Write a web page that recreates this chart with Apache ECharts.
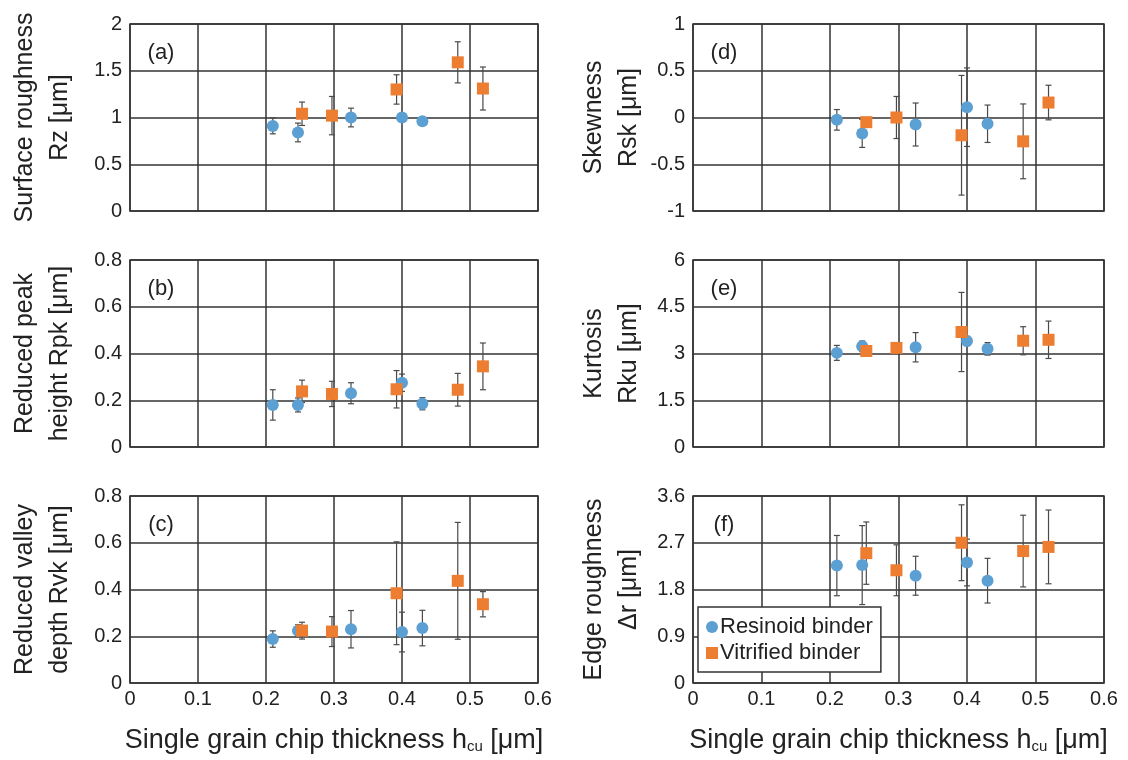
<!DOCTYPE html>
<html>
<head>
<meta charset="utf-8">
<script src="https://cdn.jsdelivr.net/npm/echarts@6/dist/echarts.min.js"></script>
<style>
  html, body { margin: 0; padding: 0; background: #fff; }
  #chart { width: 1128px; height: 760px; }
</style>
</head>
<body>
<div id="chart"></div>
<script>
// single grain chip thickness hcu [µm]
var xTicks = [0, 0.1, 0.2, 0.3, 0.4, 0.5, 0.6];
var hcuResin = [0.21, 0.247, 0.325, 0.40, 0.43];
var hcuVitri = [0.253, 0.297, 0.392, 0.482, 0.519];

// (a) Rz
var rzTicks = [0, 0.5, 1, 1.5, 2];
var rzResin = [0.91, 0.84, 1.0, 1.0, 0.96];
var rzResinErr = [0.085, 0.1, 0.1, 0, 0];
var rzVitri = [1.04, 1.02, 1.30, 1.59, 1.31];
var rzVitriErr = [0.125, 0.205, 0.157, 0.22, 0.23];

// (b) Rpk
var rpkTicks = [0, 0.2, 0.4, 0.6, 0.8];
var rpkResin = [0.18, 0.18, 0.23, 0.275, 0.185];
var rpkResinErr = [0.065, 0.03, 0.045, 0.037, 0.026];
var rpkVitri = [0.238, 0.227, 0.247, 0.245, 0.345];
var rpkVitriErr = [0.048, 0.054, 0.08, 0.07, 0.1];

// (c) Rvk
var rvkTicks = [0, 0.2, 0.4, 0.6, 0.8];
var rvkResin = [0.188, 0.224, 0.23, 0.218, 0.235];
var rvkResinErr = [0.035, 0.025, 0.08, 0.085, 0.076];
var rvkVitri = [0.224, 0.22, 0.384, 0.437, 0.337];
var rvkVitriErr = [0.036, 0.064, 0.22, 0.25, 0.054];

// (d) Rsk
var rskTicks = [-1, -0.5, 0, 0.5, 1];
var rskResin = [-0.025, -0.17, -0.075, 0.11, -0.067];
var rskResinErr = [0.11, 0.15, 0.23, 0.42, 0.2];
var rskVitri = [-0.05, 0, -0.19, -0.255, 0.16];
var rskVitriErr = [0.03, 0.225, 0.64, 0.4, 0.185];

// (e) Rku
var rkuTicks = [0, 1.5, 3, 4.5, 6];
var rkuResin = [3.02, 3.23, 3.2, 3.4, 3.15];
var rkuResinErr = [0.24, 0.17, 0.47, 0.15, 0.2];
var rkuVitri = [3.08, 3.18, 3.69, 3.41, 3.44];
var rkuVitriErr = [0.05, 0.1, 1.27, 0.45, 0.6];

// (f) edge roughness
var drTicks = [0, 0.9, 1.8, 2.7, 3.6];
var drResin = [2.26, 2.27, 2.065, 2.32, 1.97];
var drResinErr = [0.58, 0.76, 0.375, 0.45, 0.43];
var drVitri = [2.5, 2.17, 2.7, 2.54, 2.62];
var drVitriErr = [0.6, 0.49, 0.73, 0.69, 0.71];

var FONT = "'Liberation Sans', Arial, sans-serif";
var BLUE = '#5b9fd3';
var ORANGE = '#ed7d31';
var GRIDC = '#333';

var panels = [
    { tag: '(a)', name: 'Surface roughness\nRz [μm]', ticks: rzTicks, r: rzResin, re: rzResinErr, v: rzVitri, ve: rzVitriErr },
    { tag: '(b)', name: 'Reduced peak\nheight Rpk [μm]', ticks: rpkTicks, r: rpkResin, re: rpkResinErr, v: rpkVitri, ve: rpkVitriErr },
    { tag: '(c)', name: 'Reduced valley\ndepth Rvk [μm]', ticks: rvkTicks, r: rvkResin, re: rvkResinErr, v: rvkVitri, ve: rvkVitriErr },
    { tag: '(d)', name: 'Skewness\nRsk [μm]', ticks: rskTicks, r: rskResin, re: rskResinErr, v: rskVitri, ve: rskVitriErr },
    { tag: '(e)', name: 'Kurtosis\nRku [μm]', ticks: rkuTicks, r: rkuResin, re: rkuResinErr, v: rkuVitri, ve: rkuVitriErr },
    { tag: '(f)', name: 'Edge roughness\nΔr [μm]', ticks: drTicks, r: drResin, re: drResinErr, v: drVitri, ve: drVitriErr }
];

var lefts = [130, 130, 130, 693, 693, 693];
var tops = [24, 260, 496, 24, 260, 496];

function errorBars(params, api) {
    var x = api.value(0);
    var hi = api.coord([x, api.value(2)]);
    var lo = api.coord([x, api.value(1)]);
    var w = 3;
    var st = { stroke: '#4a4a4a', lineWidth: 1.2 };
    return {
        type: 'group',
        children: [
            { type: 'line', shape: { x1: hi[0], y1: hi[1], x2: lo[0], y2: lo[1] }, style: st },
            { type: 'line', shape: { x1: hi[0] - w, y1: hi[1], x2: hi[0] + w, y2: hi[1] }, style: st },
            { type: 'line', shape: { x1: lo[0] - w, y1: lo[1], x2: lo[0] + w, y2: lo[1] }, style: st }
        ]
    };
}

var grids = [], xAxes = [], yAxes = [], series = [], graphics = [];

panels.forEach(function (p, i) {
    var bottomRow = (i === 2 || i === 5);
    grids.push({
        left: lefts[i], top: tops[i], width: i < 3 ? 408 : 411, height: 187,
        show: true, borderColor: GRIDC, borderWidth: 1.5, backgroundColor: '#fff'
    });
    xAxes.push({
        gridIndex: i, type: 'value',
        min: xTicks[0], max: xTicks[xTicks.length - 1], interval: xTicks[1] - xTicks[0],
        axisLine: { show: false }, axisTick: { show: false },
        splitLine: { lineStyle: { color: GRIDC, width: 1.5 } },
        axisLabel: { show: bottomRow, color: '#222', fontSize: 20, fontFamily: FONT, margin: 6 },
        name: bottomRow ? '{a|Single grain chip thickness h}{s|cu}{a| [μm]}' : '',
        nameLocation: 'middle', nameGap: 44,
        nameTextStyle: {
            rich: {
                a: { fontSize: 27, fontFamily: FONT, color: '#222' },
                s: { fontSize: 15, fontFamily: FONT, color: '#222', verticalAlign: 'bottom', padding: [11, 0, 0, 0] }
            }
        }
    });
    var t = p.ticks;
    yAxes.push({
        gridIndex: i, type: 'value',
        min: t[0], max: t[t.length - 1], interval: t[1] - t[0],
        axisLine: { show: false }, axisTick: { show: false },
        splitLine: { lineStyle: { color: GRIDC, width: 1.5 } },
        axisLabel: { color: '#222', fontSize: 20, fontFamily: FONT, margin: 8 },
        name: p.name, nameLocation: 'middle', nameRotate: 90,
        nameGap: i < 3 ? 52 : 46,
        nameTextStyle: { fontSize: 25, fontFamily: FONT, color: '#222', lineHeight: 35 }
    });

    series.push({
        type: 'custom', xAxisIndex: i, yAxisIndex: i, z: 2, silent: true,
        renderItem: errorBars,
        data: hcuResin.map(function (x, k) { return [x, p.r[k] - p.re[k], p.r[k] + p.re[k]]; })
    });
    series.push({
        type: 'custom', xAxisIndex: i, yAxisIndex: i, z: 2, silent: true,
        renderItem: errorBars,
        data: hcuVitri.map(function (x, k) { return [x, p.v[k] - p.ve[k], p.v[k] + p.ve[k]]; })
    });
    series.push({
        name: 'Resinoid binder', type: 'scatter', xAxisIndex: i, yAxisIndex: i, z: 3,
        symbol: 'circle', symbolSize: 12, itemStyle: { color: BLUE, opacity: 1 },
        data: hcuResin.map(function (x, k) { return [x, p.r[k]]; })
    });
    series.push({
        name: 'Vitrified binder', type: 'scatter', xAxisIndex: i, yAxisIndex: i, z: 3,
        symbol: 'rect', symbolSize: 12, itemStyle: { color: ORANGE, opacity: 1 },
        data: hcuVitri.map(function (x, k) { return [x, p.v[k]]; })
    });

    graphics.push({
        type: 'text', x: lefts[i] + 31, y: tops[i] + 29, z: 10,
        style: { text: p.tag, font: '22px ' + FONT, fill: '#222', textAlign: 'center', textVerticalAlign: 'middle' }
    });
});

var chart = echarts.init(document.getElementById('chart'));
chart.setOption({
    backgroundColor: '#fff',
    animation: false,
    grid: grids,
    xAxis: xAxes,
    yAxis: yAxes,
    series: series,
    graphic: graphics,
    legend: {
        orient: 'vertical', left: 698, top: 607,
        data: [{ name: 'Resinoid binder', icon: 'circle' }, { name: 'Vitrified binder', icon: 'rect' }],
        itemWidth: 12, itemHeight: 12, itemGap: 4,
        padding: [9, 8, 8, 8],
        backgroundColor: '#fff', borderColor: GRIDC, borderWidth: 1.5,
        textStyle: { fontSize: 22, fontFamily: FONT, color: '#222', padding: [0, 0, 0, -3] }
    }
});
</script>
</body>
</html>
